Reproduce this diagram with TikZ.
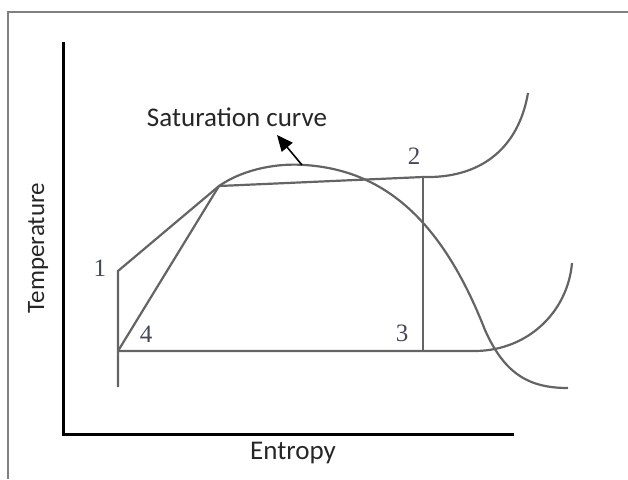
\documentclass[tikz,border=0pt]{standalone}
\usepackage{fontspec}
\setmainfont{Carlito}
\newfontfamily\numfont{Liberation Serif}
\usetikzlibrary{arrows.meta}
\definecolor{cFrame}{RGB}{128,128,128}
\definecolor{cCurve}{RGB}{100,100,100}
\definecolor{cNum}{RGB}{70,72,90}

\begin{document}
\begin{tikzpicture}[
  x=0.5pt, y=-0.5pt,
  axis/.style={line width=1.5pt, black},
  curve/.style={line width=1.1pt, cCurve},
  lbl/.style={font=\fontsize{13.5}{16}\selectfont, text=black!85, inner sep=0pt},
  num/.style={font=\numfont\fontsize{12.5}{14}\selectfont, text=cNum, inner sep=0pt},
  arr/.style={-{Triangle[length=8pt, width=7pt]}, line width=0.8pt, black},
]
\useasboundingbox (0,0) rectangle (628,479);

% Frame
\draw[cFrame, line width=1pt] (8,479) -- (8,12) -- (628,12);

% Axes
\coordinate (origin) at (63,434);
\draw[axis] (63,42) -- (origin) -- (514,434);
\node[lbl] (xlabel) at (293,453) {Entropy};
\node[lbl, rotate=90, font=\fontsize{12.5}{15}\selectfont] (ylabel) at (38,248) {Temperature};

% Cycle states
\coordinate (s1) at (118,271);
\coordinate (s4) at (118,351);
\coordinate (peak) at (219,186);
\coordinate (s2) at (423,177);
\coordinate (s3) at (423,351);

% Cycle lines
\draw[curve] (118,387) -- (s1) -- (peak);
\draw[curve] (s4) -- (peak) -- (s2);
\draw[curve] (s2) -- (s3);
\draw[curve] (s4) -- (s3) -- (476,351)
  .. controls (530,350) and (568,310) .. (572,263);
\draw[curve] (s2) -- (432,177)
  .. controls (490,175) and (520,140) .. (528,93);

% Saturation curve
\draw[curve] (peak) .. controls (245,168) and (280,163) .. (305,165)
  .. controls (380,170) and (440,215) .. (485,330)
  .. controls (505,375) and (530,388) .. (568,388);
\coordinate (top) at (302,165);
\node[lbl] (satlabel) at (237,117) {Saturation curve};
\draw[arr] (top) -- (277,135);

% State labels
\node[num] (n1) at (100,268) {1};
\node[num] (n2) at (414,156) {2};
\node[num] (n3) at (402,333) {3};
\node[num] (n4) at (146,334) {4};

\end{tikzpicture}
\end{document}
